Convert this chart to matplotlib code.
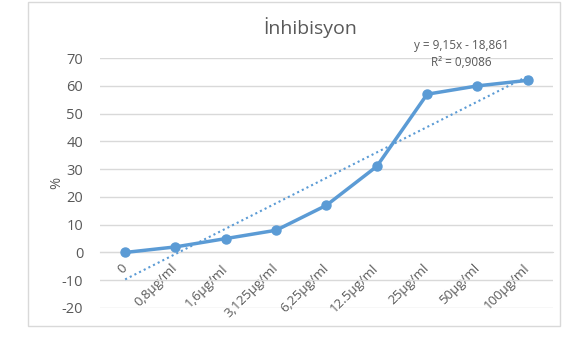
#!/usr/bin/env python3
"""plot.py - inhibition line chart with linear trendline."""

import matplotlib
matplotlib.use("Agg")
import matplotlib.pyplot as plt
from matplotlib.patches import Rectangle
import numpy as np

TITLE = "İnhibisyon"
YLABEL = "%"

categories = ["0", "0,8µg/ml", "1,6µg/ml", "3,125µg/ml", "6,25µg/ml",
              "12.5µg/ml", "25µg/ml", "50µg/ml", "100µg/ml"]
inhibition = [0, 2, 5, 8, 17, 31, 57, 60, 62]
yticks = [-20, -10, 0, 10, 20, 30, 40, 50, 60, 70]

BLUE = "#5B9BD5"
GREY_TEXT = "#595959"
GRID = "#D9D9D9"


def main() -> None:
    plt.rcParams["font.family"] = ["Open Sans", "DejaVu Sans"]
    plt.rcParams["axes.unicode_minus"] = False
    fig = plt.figure(figsize=(5.7, 3.48), dpi=100)
    fig.patches.append(Rectangle((0.049, 0.063), 0.933, 0.931,
                                 transform=fig.transFigure, fill=False,
                                 edgecolor=GRID, linewidth=1.0))
    ax = fig.add_axes([0.1754, 0.115, 0.7947, 0.718])

    x = np.arange(1, len(categories) + 1)
    y = np.array(inhibition)
    slope, intercept = np.polyfit(x, y, 1)
    r2 = np.corrcoef(x, y)[0, 1] ** 2

    ax.plot(x, slope * x + intercept, linestyle=(0, (1, 1.5)), color=BLUE,
            linewidth=1.5, zorder=3)
    ax.plot(x, y, color=BLUE, linewidth=2.5, marker="o", markersize=6.5,
            zorder=4)

    ax.set_xlim(0.5, len(categories) + 0.5)
    ax.set_ylim(-20, 70)
    ax.set_yticks(yticks)
    ax.yaxis.grid(True, color=GRID, linewidth=1.0)
    ax.set_axisbelow(True)
    for side in ["left", "right", "top"]:
        ax.spines[side].set_visible(False)
    ax.spines["bottom"].set_position(("data", 0))
    ax.spines["bottom"].set_color(GRID)

    ax.set_xticks(x)
    ax.set_xticklabels(categories, rotation=45, ha="right", va="center",
                       rotation_mode="anchor")
    ax.tick_params(axis="x", length=0, pad=10, labelsize=9.5,
                   labelcolor=GREY_TEXT)
    ax.tick_params(axis="y", length=0, pad=12, labelsize=10.5,
                   labelcolor=GREY_TEXT)

    fig.text(0.1, 0.474, YLABEL, rotation=90, ha="center", va="center",
             fontsize=10.5, color=GREY_TEXT)
    fig.text(0.545, 0.92, TITLE, ha="center", va="center", fontsize=14,
             color=GREY_TEXT)

    eq = f"y = {slope:.2f}x - {abs(intercept):.3f}".replace(".", ",")
    r2_txt = f"R² = {r2:.4f}".replace(".", ",")
    fig.text(0.809, 0.868, eq, ha="center", va="center", fontsize=8.5,
             color=GREY_TEXT)
    fig.text(0.809, 0.82, r2_txt, ha="center", va="center", fontsize=8.5,
             color=GREY_TEXT)

    fig.savefig("out.png", dpi=100)


if __name__ == "__main__":
    main()
